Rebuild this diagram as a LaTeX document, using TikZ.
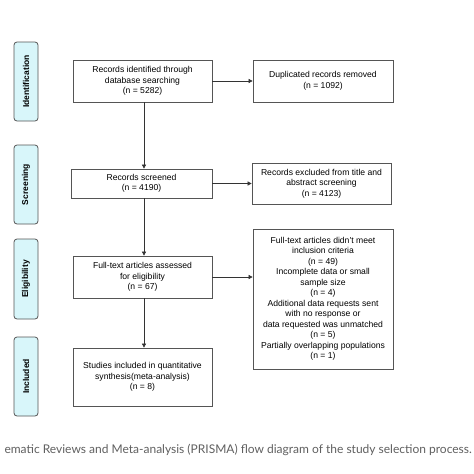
\documentclass[tikz,border=0pt]{standalone}
\usepackage{fontspec}
\setmainfont{Liberation Sans}
\newfontfamily\capfont{Lato}
\usetikzlibrary{arrows.meta}
\definecolor{boxline}{HTML}{555555}
\definecolor{sidefill}{HTML}{D8F6FA}
\definecolor{captxt}{HTML}{606060}
\tikzset{
  flowbox/.style={draw=boxline, line width=0.7pt, fill=white, inner sep=0pt, align=center,
    font=\fontsize{8.6}{10.5}\selectfont},
  sidebox/.style={draw=boxline, line width=0.8pt, fill=sidefill, rounded corners=3pt, inner sep=0pt},
  sidetext/.style={rotate=90, font=\fontsize{8.5}{10}\selectfont\bfseries},
  flow/.style={draw=black!80, line width=0.6pt, -{Triangle[length=4pt,width=4pt]}}
}
\begin{document}
\begin{tikzpicture}[x=1pt,y=-1pt]
\useasboundingbox[fill=white] (0,0) rectangle (474,474);
% side labels
\node[sidebox, minimum width=24pt, minimum height=79pt] (sid) at (26,81.5) {};
\node[sidetext] (tid) at (sid.center) {Identification};
\node[sidebox, minimum width=24pt, minimum height=79pt] (ssc) at (26,184.5) {};
\node[sidetext] (tsc) at (ssc.center) {Screening};
\node[sidebox, minimum width=24pt, minimum height=80pt] (sel) at (26,279) {};
\node[sidetext] (tel) at (sel.center) {Eligibility};
\node[sidebox, minimum width=24pt, minimum height=79pt] (sin) at (26,376.5) {};
\node[sidetext] (tin) at (sin.center) {Included};
% main boxes
\node[flowbox, minimum width=139pt, minimum height=42pt] (rid) at (142.5,81) {Records identified through\\database searching\\(n = 5282)};
\node[flowbox, minimum width=141pt, minimum height=29pt] (rsc) at (141.5,183.5) {Records screened\\(n = 4190)};
\node[flowbox, minimum width=139pt, minimum height=42pt] (fta) at (142.5,277) {Full-text articles assessed\\for eligibility\\(n = 67)};
\node[flowbox, minimum width=139pt, minimum height=58pt] (inc) at (142.5,377) {Studies included in quantitative\\synthesis(meta-analysis)\\(n = 8)};
% right boxes
\node[flowbox, minimum width=140pt, minimum height=42pt] (dup) at (323,81) {Duplicated records removed\\(n = 1092)};
\node[flowbox, minimum width=139pt, minimum height=41pt] (exc) at (321.5,183.5) {Records excluded from title and\\abstract screening\\(n = 4123)};
\node[flowbox, minimum width=140pt, minimum height=140pt] (ftx) at (323,299) {Full-text articles didn't meet\\inclusion criteria\\(n = 49)\\Incomplete data or small\\sample size\\(n = 4)\\Additional data requests sent\\with no response or\\data requested was unmatched\\(n = 5)\\Partially overlapping populations\\(n = 1)};
% connectors
\coordinate (vx) at (144,0);
\draw[flow] (rid.south -| vx) -- (rsc.north -| vx);
\draw[flow] (rsc.south -| vx) -- (fta.north -| vx);
\draw[flow] (fta.south -| vx) -- (inc.north -| vx);
\draw[flow] (rid.east) -- (dup.west);
\draw[flow] (rsc.east) -- (exc.west);
\draw[flow] (fta.east) -- (fta.east -| ftx.west);
% caption
\node[anchor=east, text=captxt, inner sep=0pt, font=\capfont\fontsize{12}{14}\selectfont] (cap) at (472,450) {ematic Reviews and Meta-analysis (PRISMA) flow diagram of the study selection process.};
\end{tikzpicture}
\end{document}
